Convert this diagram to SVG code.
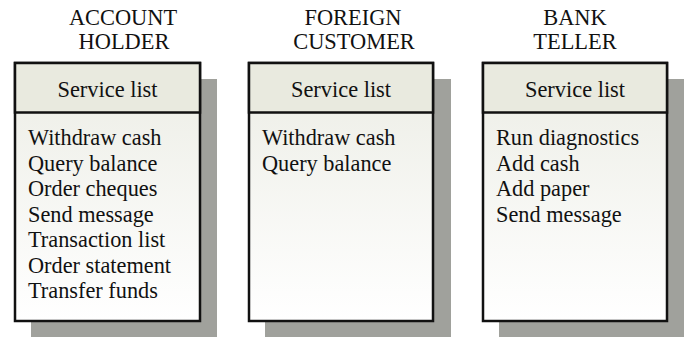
<svg xmlns="http://www.w3.org/2000/svg" width="686" height="337" viewBox="0 0 686 337">
  <defs>
    <linearGradient id="bodyFill" x1="0" y1="0" x2="0" y2="1">
      <stop offset="0" stop-color="#ecede5"/>
      <stop offset="1" stop-color="#ffffff"/>
    </linearGradient>
  </defs>
  <style>
    .title { font-size: 22.4px; text-anchor: middle; }
    .head { font-size: 22.4px; text-anchor: middle; }
    .item { font-size: 22.3px; }
    .shadow { fill: #a0a19c; }
    .body { fill: url(#bodyFill); stroke: #111; stroke-width: 2.5; }
    .header { fill: #e9eadf; stroke: #111; stroke-width: 2.5; }
  </style>

  <g font-family="Liberation Serif, DejaVu Serif, serif" fill="#111">
  <!-- Account holder -->
  <g id="account-holder">
    <text class="title" x="123" y="25">ACCOUNT</text>
    <text class="title" x="124" y="49">HOLDER</text>
    <rect class="shadow" x="31" y="79" width="186" height="258"/>
    <rect class="body" x="15" y="63" width="185" height="258"/>
    <rect class="header" x="15" y="63" width="185" height="49.5"/>
    <text class="head" x="107.5" y="97">Service list</text>
    <text class="item" x="28" y="145">Withdraw cash</text>
    <text class="item" x="28" y="170.5">Query balance</text>
    <text class="item" x="28" y="196">Order cheques</text>
    <text class="item" x="28" y="221.5">Send message</text>
    <text class="item" x="28" y="247">Transaction list</text>
    <text class="item" x="28" y="272.5">Order statement</text>
    <text class="item" x="28" y="298">Transfer funds</text>
  </g>

  <!-- Foreign customer -->
  <g id="foreign-customer">
    <text class="title" x="353" y="25">FOREIGN</text>
    <text class="title" x="354" y="49">CUSTOMER</text>
    <rect class="shadow" x="265" y="79" width="186" height="258"/>
    <rect class="body" x="249" y="63" width="184" height="258"/>
    <rect class="header" x="249" y="63" width="184" height="49.5"/>
    <text class="head" x="341" y="97">Service list</text>
    <text class="item" x="262" y="145">Withdraw cash</text>
    <text class="item" x="262" y="170.5">Query balance</text>
  </g>

  <!-- Bank teller -->
  <g id="bank-teller">
    <text class="title" x="575" y="25">BANK</text>
    <text class="title" x="575" y="49">TELLER</text>
    <rect class="shadow" x="499" y="79" width="185" height="258"/>
    <rect class="body" x="483" y="63" width="184" height="258"/>
    <rect class="header" x="483" y="63" width="184" height="49.5"/>
    <text class="head" x="575" y="97">Service list</text>
    <text class="item" x="496" y="145">Run diagnostics</text>
    <text class="item" x="496" y="170.5">Add cash</text>
    <text class="item" x="496" y="196">Add paper</text>
    <text class="item" x="496" y="221.5">Send message</text>
  </g>
  </g>

  <g id="connectors"/>
</svg>
